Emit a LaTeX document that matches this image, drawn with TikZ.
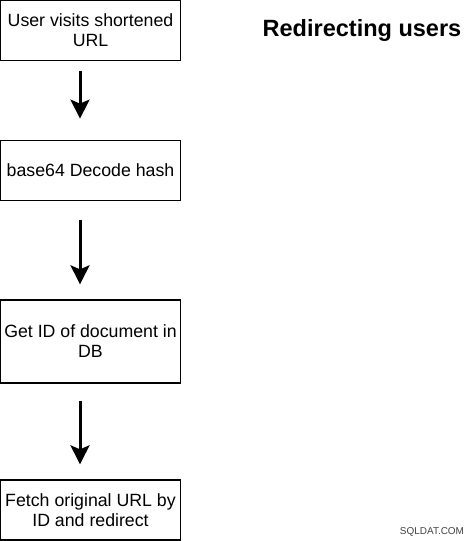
\documentclass[tikz,border=0pt]{standalone}
\usepackage{fontspec}
\setmainfont{Liberation Sans}
\usetikzlibrary{arrows.meta}
\tikzset{
  stepbox/.style={draw=black, line width=1.3bp, minimum width=180bp, minimum height=60bp,
    inner sep=1bp, align=center, font=\fontsize{17.8}{20}\selectfont},
  flowarrow/.style={line width=3bp, -{Stealth[length=19bp,width=19bp,inset=4bp]}},
}
\begin{document}
\begin{tikzpicture}[x=1bp,y=-1bp]
\useasboundingbox (0,0) rectangle (476,541);
\node[stepbox] (a) at (90.5,30.3) {User visits shortened\\URL};
\node[stepbox] (b) at (90.5,170.3) {base64 Decode hash};
\node[stepbox, minimum height=83bp] (c) at (90.5,341.5) {Get ID of document in\\DB};
\node[stepbox] (d) at (90.5,510) {Fetch original URL by\\ID and redirect};
\node[font=\fontsize{23.6}{26}\selectfont\bfseries] (t) at (362,30) {Redirecting users};
\node[font=\fontsize{10}{12}\selectfont, text=black!75] (w) at (432,532) {SQLDAT.COM};
\draw[flowarrow, shorten <=10bp, shorten >=21bp] ([xshift=-10.5bp]a.south) -- ([xshift=-10.5bp]b.north);
\draw[flowarrow, shorten <=19bp, shorten >=15bp] ([xshift=-10.5bp]b.south) -- ([xshift=-10.5bp]c.north);
\draw[flowarrow, shorten <=17bp, shorten >=15bp] ([xshift=-10.5bp]c.south) -- ([xshift=-10.5bp]d.north);
\end{tikzpicture}
\end{document}
